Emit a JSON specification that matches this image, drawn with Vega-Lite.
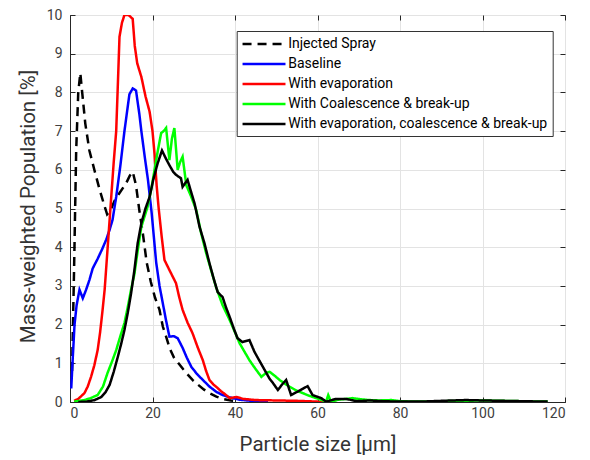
{
  "$schema": "https://vega.github.io/schema/vega-lite/v6.json",
  "width": 495,
  "height": 387,
  "autosize": {"type": "none"},
  "padding": {"left": 70, "top": 15, "right": 25, "bottom": 58},
  "background": "white",
  "config": {
    "font": "Roboto",
    "view": {"stroke": "#262626", "strokeWidth": 1},
    "axis": {
      "gridColor": "#e3e3e3",
      "gridWidth": 1,
      "domainColor": "#262626",
      "tickColor": "#262626",
      "tickSize": -5,
      "labelFontSize": 14,
      "labelColor": "#404040",
      "titleFontSize": 20.5,
      "titleFontWeight": "normal",
      "titleColor": "#333333"
    },
    "legend": {
      "title": null,
      "orient": "none",
      "legendX": 166.7,
      "legendY": 16,
      "symbolType": "M-1,0H5",
      "symbolSize": 205,
      "symbolStrokeWidth": 2.5,
      "labelFontSize": 14,
      "labelColor": "#000000",
      "labelOffset": 30,
      "labelLimit": 400,
      "fillColor": "white",
      "strokeColor": "#333333",
      "padding": 4.5,
      "rowPadding": 4
    }
  },
  "datasets": {
    "d": [
      {"series": "Injected Spray", "x": 0.5, "y": 0.8},
      {"series": "Injected Spray", "x": 1, "y": 3.5},
      {"series": "Injected Spray", "x": 1.5, "y": 6.5},
      {"series": "Injected Spray", "x": 2, "y": 8.0},
      {"series": "Injected Spray", "x": 2.5, "y": 8.5},
      {"series": "Injected Spray", "x": 3, "y": 7.95},
      {"series": "Injected Spray", "x": 3.7, "y": 7.2},
      {"series": "Injected Spray", "x": 4.7, "y": 6.5},
      {"series": "Injected Spray", "x": 5.9, "y": 6.0},
      {"series": "Injected Spray", "x": 7.2, "y": 5.48},
      {"series": "Injected Spray", "x": 8.4, "y": 5.05},
      {"series": "Injected Spray", "x": 9, "y": 4.85},
      {"series": "Injected Spray", "x": 9.8, "y": 4.95},
      {"series": "Injected Spray", "x": 10.8, "y": 5.2},
      {"series": "Injected Spray", "x": 12, "y": 5.4},
      {"series": "Injected Spray", "x": 13.6, "y": 5.65},
      {"series": "Injected Spray", "x": 14.5, "y": 5.85},
      {"series": "Injected Spray", "x": 15.2, "y": 5.95},
      {"series": "Injected Spray", "x": 16, "y": 5.6},
      {"series": "Injected Spray", "x": 16.8, "y": 4.96},
      {"series": "Injected Spray", "x": 17.6, "y": 4.4},
      {"series": "Injected Spray", "x": 18.6, "y": 3.6},
      {"series": "Injected Spray", "x": 19.6, "y": 3.1},
      {"series": "Injected Spray", "x": 20.6, "y": 2.7},
      {"series": "Injected Spray", "x": 21.7, "y": 2.38},
      {"series": "Injected Spray", "x": 22.5, "y": 1.95},
      {"series": "Injected Spray", "x": 23.3, "y": 1.69},
      {"series": "Injected Spray", "x": 24.2, "y": 1.38},
      {"series": "Injected Spray", "x": 25.2, "y": 1.15},
      {"series": "Injected Spray", "x": 26.3, "y": 1.0},
      {"series": "Injected Spray", "x": 27.5, "y": 0.84},
      {"series": "Injected Spray", "x": 28.6, "y": 0.7},
      {"series": "Injected Spray", "x": 29.7, "y": 0.57},
      {"series": "Injected Spray", "x": 31, "y": 0.45},
      {"series": "Injected Spray", "x": 32.5, "y": 0.32},
      {"series": "Injected Spray", "x": 34, "y": 0.22},
      {"series": "Injected Spray", "x": 35.5, "y": 0.14},
      {"series": "Injected Spray", "x": 37, "y": 0.08},
      {"series": "Injected Spray", "x": 39, "y": 0.04},
      {"series": "Injected Spray", "x": 41, "y": 0.02},

      {"series": "Baseline", "x": 0.3, "y": 0.35},
      {"series": "Baseline", "x": 0.7, "y": 1.2},
      {"series": "Baseline", "x": 1.1, "y": 2.0},
      {"series": "Baseline", "x": 1.6, "y": 2.5},
      {"series": "Baseline", "x": 2.3, "y": 2.9},
      {"series": "Baseline", "x": 3.1, "y": 2.68},
      {"series": "Baseline", "x": 3.9, "y": 2.9},
      {"series": "Baseline", "x": 4.7, "y": 3.15},
      {"series": "Baseline", "x": 5.5, "y": 3.45},
      {"series": "Baseline", "x": 6.7, "y": 3.7},
      {"series": "Baseline", "x": 7.8, "y": 3.95},
      {"series": "Baseline", "x": 8.8, "y": 4.2},
      {"series": "Baseline", "x": 9.6, "y": 4.45},
      {"series": "Baseline", "x": 10.3, "y": 4.7},
      {"series": "Baseline", "x": 11.2, "y": 5.3},
      {"series": "Baseline", "x": 12.2, "y": 6.1},
      {"series": "Baseline", "x": 13.2, "y": 7.0},
      {"series": "Baseline", "x": 14.4, "y": 7.95},
      {"series": "Baseline", "x": 15.2, "y": 8.1},
      {"series": "Baseline", "x": 16, "y": 8.05},
      {"series": "Baseline", "x": 16.8, "y": 7.45},
      {"series": "Baseline", "x": 17.3, "y": 7.0},
      {"series": "Baseline", "x": 18.1, "y": 6.35},
      {"series": "Baseline", "x": 18.9, "y": 5.74},
      {"series": "Baseline", "x": 19.8, "y": 4.88},
      {"series": "Baseline", "x": 20.9, "y": 3.6},
      {"series": "Baseline", "x": 21.7, "y": 3.0},
      {"series": "Baseline", "x": 22.5, "y": 2.55},
      {"series": "Baseline", "x": 23.3, "y": 2.1},
      {"series": "Baseline", "x": 24.1, "y": 1.69},
      {"series": "Baseline", "x": 25.2, "y": 1.7},
      {"series": "Baseline", "x": 26.1, "y": 1.65},
      {"series": "Baseline", "x": 27.3, "y": 1.4},
      {"series": "Baseline", "x": 28.3, "y": 1.15},
      {"series": "Baseline", "x": 29.4, "y": 0.91},
      {"series": "Baseline", "x": 30.8, "y": 0.72},
      {"series": "Baseline", "x": 32.2, "y": 0.57},
      {"series": "Baseline", "x": 33.8, "y": 0.4},
      {"series": "Baseline", "x": 35.5, "y": 0.26},
      {"series": "Baseline", "x": 37, "y": 0.18},
      {"series": "Baseline", "x": 38.7, "y": 0.12},
      {"series": "Baseline", "x": 41, "y": 0.06},
      {"series": "Baseline", "x": 44, "y": 0.03},
      {"series": "Baseline", "x": 48, "y": 0.01},

      {"series": "With evaporation", "x": 1, "y": 0.03},
      {"series": "With evaporation", "x": 2, "y": 0.08},
      {"series": "With evaporation", "x": 3.5, "y": 0.23},
      {"series": "With evaporation", "x": 4.3, "y": 0.4},
      {"series": "With evaporation", "x": 5.1, "y": 0.65},
      {"series": "With evaporation", "x": 5.9, "y": 0.95},
      {"series": "With evaporation", "x": 6.7, "y": 1.34},
      {"series": "With evaporation", "x": 7.3, "y": 1.8},
      {"series": "With evaporation", "x": 7.9, "y": 2.38},
      {"series": "With evaporation", "x": 8.4, "y": 2.9},
      {"series": "With evaporation", "x": 8.8, "y": 3.5},
      {"series": "With evaporation", "x": 9.4, "y": 4.4},
      {"series": "With evaporation", "x": 10, "y": 5.3},
      {"series": "With evaporation", "x": 10.6, "y": 6.2},
      {"series": "With evaporation", "x": 11.2, "y": 7.0},
      {"series": "With evaporation", "x": 11.6, "y": 8.2},
      {"series": "With evaporation", "x": 12, "y": 9.44},
      {"series": "With evaporation", "x": 12.6, "y": 9.8},
      {"series": "With evaporation", "x": 13.2, "y": 10.0},
      {"series": "With evaporation", "x": 14.2, "y": 10.0},
      {"series": "With evaporation", "x": 15.2, "y": 9.9},
      {"series": "With evaporation", "x": 15.7, "y": 9.2},
      {"series": "With evaporation", "x": 16.3, "y": 8.75},
      {"series": "With evaporation", "x": 17.3, "y": 8.4},
      {"series": "With evaporation", "x": 18.3, "y": 7.9},
      {"series": "With evaporation", "x": 19.3, "y": 7.5},
      {"series": "With evaporation", "x": 20, "y": 7.0},
      {"series": "With evaporation", "x": 20.5, "y": 6.4},
      {"series": "With evaporation", "x": 21, "y": 5.6},
      {"series": "With evaporation", "x": 21.5, "y": 5.0},
      {"series": "With evaporation", "x": 22.2, "y": 4.3},
      {"series": "With evaporation", "x": 22.9, "y": 3.67},
      {"series": "With evaporation", "x": 24.1, "y": 3.41},
      {"series": "With evaporation", "x": 25.7, "y": 3.07},
      {"series": "With evaporation", "x": 26.5, "y": 2.7},
      {"series": "With evaporation", "x": 27.3, "y": 2.38},
      {"series": "With evaporation", "x": 28.5, "y": 2.05},
      {"series": "With evaporation", "x": 29.7, "y": 1.78},
      {"series": "With evaporation", "x": 31, "y": 1.4},
      {"series": "With evaporation", "x": 32.2, "y": 1.08},
      {"series": "With evaporation", "x": 33, "y": 0.8},
      {"series": "With evaporation", "x": 33.8, "y": 0.57},
      {"series": "With evaporation", "x": 34.8, "y": 0.45},
      {"series": "With evaporation", "x": 35.8, "y": 0.36},
      {"series": "With evaporation", "x": 36.6, "y": 0.28},
      {"series": "With evaporation", "x": 37.6, "y": 0.2},
      {"series": "With evaporation", "x": 38.7, "y": 0.1},
      {"series": "With evaporation", "x": 40.4, "y": 0.13},
      {"series": "With evaporation", "x": 42, "y": 0.08},
      {"series": "With evaporation", "x": 45, "y": 0.05},
      {"series": "With evaporation", "x": 50, "y": 0.04},
      {"series": "With evaporation", "x": 55, "y": 0.03},
      {"series": "With evaporation", "x": 60, "y": 0.01},
      {"series": "With evaporation", "x": 62, "y": 0.0},

      {"series": "With Coalescence & break-up", "x": 1, "y": 0.01},
      {"series": "With Coalescence & break-up", "x": 3.5, "y": 0.05},
      {"series": "With Coalescence & break-up", "x": 5, "y": 0.1},
      {"series": "With Coalescence & break-up", "x": 6.7, "y": 0.18},
      {"series": "With Coalescence & break-up", "x": 8, "y": 0.4},
      {"series": "With Coalescence & break-up", "x": 9.1, "y": 0.75},
      {"series": "With Coalescence & break-up", "x": 10.2, "y": 1.05},
      {"series": "With Coalescence & break-up", "x": 11.2, "y": 1.34},
      {"series": "With Coalescence & break-up", "x": 12.2, "y": 1.7},
      {"series": "With Coalescence & break-up", "x": 13.2, "y": 2.04},
      {"series": "With Coalescence & break-up", "x": 14, "y": 2.45},
      {"series": "With Coalescence & break-up", "x": 14.8, "y": 2.9},
      {"series": "With Coalescence & break-up", "x": 15.6, "y": 3.3},
      {"series": "With Coalescence & break-up", "x": 16.4, "y": 3.9},
      {"series": "With Coalescence & break-up", "x": 17.3, "y": 4.53},
      {"series": "With Coalescence & break-up", "x": 18.8, "y": 5.04},
      {"series": "With Coalescence & break-up", "x": 19.7, "y": 5.5},
      {"series": "With Coalescence & break-up", "x": 20.5, "y": 6.0},
      {"series": "With Coalescence & break-up", "x": 21.3, "y": 6.5},
      {"series": "With Coalescence & break-up", "x": 22.1, "y": 6.95},
      {"series": "With Coalescence & break-up", "x": 22.7, "y": 7.0},
      {"series": "With Coalescence & break-up", "x": 23.3, "y": 7.08},
      {"series": "With Coalescence & break-up", "x": 24.1, "y": 6.25},
      {"series": "With Coalescence & break-up", "x": 24.7, "y": 6.8},
      {"series": "With Coalescence & break-up", "x": 25.3, "y": 7.08},
      {"series": "With Coalescence & break-up", "x": 26.1, "y": 6.0},
      {"series": "With Coalescence & break-up", "x": 26.7, "y": 6.2},
      {"series": "With Coalescence & break-up", "x": 27.3, "y": 6.34},
      {"series": "With Coalescence & break-up", "x": 28.2, "y": 5.6},
      {"series": "With Coalescence & break-up", "x": 29.4, "y": 5.3},
      {"series": "With Coalescence & break-up", "x": 30.6, "y": 4.96},
      {"series": "With Coalescence & break-up", "x": 31.8, "y": 4.36},
      {"series": "With Coalescence & break-up", "x": 33, "y": 3.85},
      {"series": "With Coalescence & break-up", "x": 34.2, "y": 3.41},
      {"series": "With Coalescence & break-up", "x": 35.4, "y": 2.97},
      {"series": "With Coalescence & break-up", "x": 37, "y": 2.5},
      {"series": "With Coalescence & break-up", "x": 38.7, "y": 2.12},
      {"series": "With Coalescence & break-up", "x": 40, "y": 1.8},
      {"series": "With Coalescence & break-up", "x": 41.1, "y": 1.52},
      {"series": "With Coalescence & break-up", "x": 42.3, "y": 1.3},
      {"series": "With Coalescence & break-up", "x": 43.5, "y": 1.08},
      {"series": "With Coalescence & break-up", "x": 45, "y": 0.85},
      {"series": "With Coalescence & break-up", "x": 46.4, "y": 0.65},
      {"series": "With Coalescence & break-up", "x": 47.5, "y": 0.75},
      {"series": "With Coalescence & break-up", "x": 48.4, "y": 0.78},
      {"series": "With Coalescence & break-up", "x": 49.6, "y": 0.68},
      {"series": "With Coalescence & break-up", "x": 50.8, "y": 0.57},
      {"series": "With Coalescence & break-up", "x": 52, "y": 0.48},
      {"series": "With Coalescence & break-up", "x": 53.2, "y": 0.4},
      {"series": "With Coalescence & break-up", "x": 54.8, "y": 0.3},
      {"series": "With Coalescence & break-up", "x": 56.4, "y": 0.23},
      {"series": "With Coalescence & break-up", "x": 58, "y": 0.16},
      {"series": "With Coalescence & break-up", "x": 59.7, "y": 0.1},
      {"series": "With Coalescence & break-up", "x": 61, "y": 0.05},
      {"series": "With Coalescence & break-up", "x": 62.1, "y": 0.01},
      {"series": "With Coalescence & break-up", "x": 62.6, "y": 0.18},
      {"series": "With Coalescence & break-up", "x": 63.3, "y": 0.0},
      {"series": "With Coalescence & break-up", "x": 65, "y": 0.06},
      {"series": "With Coalescence & break-up", "x": 67, "y": 0.08},
      {"series": "With Coalescence & break-up", "x": 68.5, "y": 0.1},
      {"series": "With Coalescence & break-up", "x": 70.5, "y": 0.07},
      {"series": "With Coalescence & break-up", "x": 72.5, "y": 0.05},
      {"series": "With Coalescence & break-up", "x": 75, "y": 0.04},
      {"series": "With Coalescence & break-up", "x": 78, "y": 0.05},
      {"series": "With Coalescence & break-up", "x": 80, "y": 0.02},
      {"series": "With Coalescence & break-up", "x": 85, "y": 0.01},
      {"series": "With Coalescence & break-up", "x": 90, "y": 0.02},
      {"series": "With Coalescence & break-up", "x": 95, "y": 0.03},
      {"series": "With Coalescence & break-up", "x": 100, "y": 0.04},
      {"series": "With Coalescence & break-up", "x": 105, "y": 0.03},
      {"series": "With Coalescence & break-up", "x": 110, "y": 0.02},
      {"series": "With Coalescence & break-up", "x": 115.8, "y": 0.01},

      {"series": "With evaporation, coalescence & break-up", "x": 2, "y": 0.0},
      {"series": "With evaporation, coalescence & break-up", "x": 4, "y": 0.01},
      {"series": "With evaporation, coalescence & break-up", "x": 6, "y": 0.05},
      {"series": "With evaporation, coalescence & break-up", "x": 7.6, "y": 0.13},
      {"series": "With evaporation, coalescence & break-up", "x": 8.6, "y": 0.25},
      {"series": "With evaporation, coalescence & break-up", "x": 9.6, "y": 0.44},
      {"series": "With evaporation, coalescence & break-up", "x": 10.6, "y": 0.78},
      {"series": "With evaporation, coalescence & break-up", "x": 11.6, "y": 1.17},
      {"series": "With evaporation, coalescence & break-up", "x": 12.4, "y": 1.5},
      {"series": "With evaporation, coalescence & break-up", "x": 13.2, "y": 1.86},
      {"series": "With evaporation, coalescence & break-up", "x": 14, "y": 2.3},
      {"series": "With evaporation, coalescence & break-up", "x": 14.8, "y": 2.8},
      {"series": "With evaporation, coalescence & break-up", "x": 15.6, "y": 3.4},
      {"series": "With evaporation, coalescence & break-up", "x": 16.4, "y": 4.1},
      {"series": "With evaporation, coalescence & break-up", "x": 17.3, "y": 4.62},
      {"series": "With evaporation, coalescence & break-up", "x": 18.3, "y": 5.0},
      {"series": "With evaporation, coalescence & break-up", "x": 19.3, "y": 5.3},
      {"series": "With evaporation, coalescence & break-up", "x": 20.2, "y": 5.75},
      {"series": "With evaporation, coalescence & break-up", "x": 21.2, "y": 6.15},
      {"series": "With evaporation, coalescence & break-up", "x": 22.3, "y": 6.5},
      {"series": "With evaporation, coalescence & break-up", "x": 23.2, "y": 6.3},
      {"series": "With evaporation, coalescence & break-up", "x": 24.1, "y": 6.12},
      {"series": "With evaporation, coalescence & break-up", "x": 25, "y": 5.95},
      {"series": "With evaporation, coalescence & break-up", "x": 25.7, "y": 5.87},
      {"series": "With evaporation, coalescence & break-up", "x": 26.9, "y": 5.78},
      {"series": "With evaporation, coalescence & break-up", "x": 27.3, "y": 5.56},
      {"series": "With evaporation, coalescence & break-up", "x": 28.5, "y": 5.74},
      {"series": "With evaporation, coalescence & break-up", "x": 29.3, "y": 5.45},
      {"series": "With evaporation, coalescence & break-up", "x": 30.2, "y": 5.13},
      {"series": "With evaporation, coalescence & break-up", "x": 31.4, "y": 4.53},
      {"series": "With evaporation, coalescence & break-up", "x": 32.6, "y": 4.1},
      {"series": "With evaporation, coalescence & break-up", "x": 33.8, "y": 3.59},
      {"series": "With evaporation, coalescence & break-up", "x": 34.8, "y": 3.2},
      {"series": "With evaporation, coalescence & break-up", "x": 35.8, "y": 2.84},
      {"series": "With evaporation, coalescence & break-up", "x": 37, "y": 2.71},
      {"series": "With evaporation, coalescence & break-up", "x": 37.8, "y": 2.45},
      {"series": "With evaporation, coalescence & break-up", "x": 38.7, "y": 2.2},
      {"series": "With evaporation, coalescence & break-up", "x": 39.7, "y": 1.9},
      {"series": "With evaporation, coalescence & break-up", "x": 40.6, "y": 1.65},
      {"series": "With evaporation, coalescence & break-up", "x": 41.8, "y": 1.55},
      {"series": "With evaporation, coalescence & break-up", "x": 43.5, "y": 1.6},
      {"series": "With evaporation, coalescence & break-up", "x": 44.7, "y": 1.3},
      {"series": "With evaporation, coalescence & break-up", "x": 45.9, "y": 1.07},
      {"series": "With evaporation, coalescence & break-up", "x": 46.8, "y": 0.9},
      {"series": "With evaporation, coalescence & break-up", "x": 47.6, "y": 0.75},
      {"series": "With evaporation, coalescence & break-up", "x": 48.4, "y": 0.6},
      {"series": "With evaporation, coalescence & break-up", "x": 49.2, "y": 0.49},
      {"series": "With evaporation, coalescence & break-up", "x": 50.4, "y": 0.31},
      {"series": "With evaporation, coalescence & break-up", "x": 51.4, "y": 0.45},
      {"series": "With evaporation, coalescence & break-up", "x": 52.4, "y": 0.57},
      {"series": "With evaporation, coalescence & break-up", "x": 53.6, "y": 0.18},
      {"series": "With evaporation, coalescence & break-up", "x": 55.2, "y": 0.27},
      {"series": "With evaporation, coalescence & break-up", "x": 56.4, "y": 0.34},
      {"series": "With evaporation, coalescence & break-up", "x": 57.6, "y": 0.41},
      {"series": "With evaporation, coalescence & break-up", "x": 58.8, "y": 0.18},
      {"series": "With evaporation, coalescence & break-up", "x": 60.9, "y": 0.1},
      {"series": "With evaporation, coalescence & break-up", "x": 62.1, "y": 0.01},
      {"series": "With evaporation, coalescence & break-up", "x": 64.5, "y": 0.08},
      {"series": "With evaporation, coalescence & break-up", "x": 67, "y": 0.08},
      {"series": "With evaporation, coalescence & break-up", "x": 69.4, "y": 0.02},
      {"series": "With evaporation, coalescence & break-up", "x": 72.7, "y": 0.04},
      {"series": "With evaporation, coalescence & break-up", "x": 76, "y": 0.02},
      {"series": "With evaporation, coalescence & break-up", "x": 80, "y": 0.01},
      {"series": "With evaporation, coalescence & break-up", "x": 85, "y": 0.01},
      {"series": "With evaporation, coalescence & break-up", "x": 90, "y": 0.03},
      {"series": "With evaporation, coalescence & break-up", "x": 96, "y": 0.05},
      {"series": "With evaporation, coalescence & break-up", "x": 100, "y": 0.04},
      {"series": "With evaporation, coalescence & break-up", "x": 105, "y": 0.03},
      {"series": "With evaporation, coalescence & break-up", "x": 110, "y": 0.02},
      {"series": "With evaporation, coalescence & break-up", "x": 115.8, "y": 0.01}
    ]
  },
  "data": {"name": "d"},
  "layer": [
    {
      "mark": {"type": "line", "strokeWidth": 2.5, "clip": true},
      "encoding": {
        "x": {
          "field": "x",
          "type": "quantitative",
          "scale": {"domain": [0, 120], "nice": false, "zero": false},
          "axis": {
            "title": "Particle size [μm]",
            "values": [0, 20, 40, 60, 80, 100, 120],
            "labelPadding": 9,
            "titleBaseline": "alphabetic",
            "titleY": 48
          }
        },
        "y": {
          "field": "y",
          "type": "quantitative",
          "scale": {"domain": [0, 10], "nice": false},
          "axis": {
            "title": "Mass-weighted Population [%]",
            "values": [0, 1, 2, 3, 4, 5, 6, 7, 8, 9, 10],
            "labelPadding": 13,
            "titleBaseline": "alphabetic",
            "titleX": -35.5,
            "titleY": 191,
            "titleAngle": -90,
            "titleAlign": "center"
          }
        },
        "color": {
          "field": "series",
          "type": "nominal",
          "sort": null,
          "scale": {
            "domain": ["Injected Spray", "Baseline", "With evaporation", "With Coalescence & break-up", "With evaporation, coalescence & break-up"],
            "range": ["#000000", "#0000ff", "#ff0000", "#00ff00", "#000000"]
          },
          "legend": {"title": null}
        },
        "strokeDash": {
          "field": "series",
          "type": "nominal",
          "sort": null,
          "scale": {
            "domain": ["Injected Spray", "Baseline", "With evaporation", "With Coalescence & break-up", "With evaporation, coalescence & break-up"],
            "range": [[9, 6], [1, 0], [1, 0], [1, 0], [1, 0]]
          },
          "legend": {"title": null}
        }
      }
    },
    {
      "mark": {"type": "point", "opacity": 0},
      "encoding": {
        "x": {
          "field": "x",
          "type": "quantitative",
          "axis": {
            "orient": "top",
            "values": [0, 20, 40, 60, 80, 100, 120],
            "labels": false,
            "title": null,
            "grid": false,
            "domain": false
          }
        },
        "y": {
          "field": "y",
          "type": "quantitative",
          "axis": {
            "orient": "right",
            "values": [0, 1, 2, 3, 4, 5, 6, 7, 8, 9, 10],
            "labels": false,
            "title": null,
            "grid": false,
            "domain": false
          }
        }
      }
    }
  ],
  "resolve": {"axis": {"x": "independent", "y": "independent"}}
}
